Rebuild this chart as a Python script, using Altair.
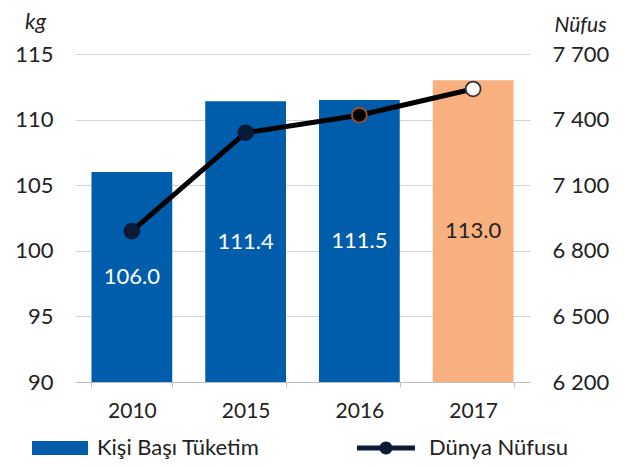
import altair as alt
import pandas as pd

years = ["2010", "2015", "2016", "2017"]
consumption = [106.0, 111.4, 111.5, 113.0]
population = [6890, 7340, 7420, 7540]
bar_series = "Kişi Başı Tüketim"
line_series = "Dünya Nüfusu"

df = pd.DataFrame({
    "year": years,
    "kg": consumption,
    "pop": population,
    "bs": [bar_series] * 4,
    "ls": [line_series] * 4,
})

FONT = "Lato"
BLUE = "#005DAC"
ORANGE = "#F8B07E"
NAVY = "#0B1A36"
TXT = "#222222"

x_enc = alt.X(
    "year:N",
    sort=years,
    scale=alt.Scale(paddingInner=0.29, paddingOuter=0.145),
    axis=alt.Axis(
        title=None, labelAngle=0, labelFontSize=21, labelColor=TXT,
        labelFont=FONT, tickBand="extent", ticks=True, tickSize=5,
        tickColor="#bfbfbf", domainColor="#bfbfbf", labelPadding=13, grid=False,
    ),
)

y_left = alt.Y(
    "kg:Q",
    scale=alt.Scale(domain=[90, 115], nice=False, zero=False),
    axis=alt.Axis(
        title="kg", titleAngle=0, titleFontStyle="italic", titleFontWeight="normal",
        titleFontSize=22, titleFont=FONT, titleColor=TXT,
        titleX=-40, titleY=-21, titleAlign="center",
        values=[90, 95, 100, 105, 110, 115], labelFontSize=22, labelFont=FONT,
        labelColor=TXT, ticks=False, domain=False, labelPadding=22,
        grid=True, gridColor="#d4d4d4",
    ),
)

bars = alt.Chart(df).mark_bar(clip=True).encode(
    x=x_enc,
    y=y_left,
    fill=alt.condition(
        "datum.year == '2017'",
        alt.value(ORANGE),
        alt.Fill(
            "bs:N",
            scale=alt.Scale(domain=[bar_series], range=[BLUE]),
            legend=alt.Legend(
                title=None, orient="none", legendX=-43, legendY=366,
                symbolType="M-1,-0.25H1V0.25H-1Z", symbolSize=3136,
                symbolStrokeWidth=0, labelFontSize=22, labelFont=FONT,
                labelColor=TXT, labelOffset=9, labelLimit=400,
            ),
        ),
    ),
)

labels = alt.Chart(df).transform_calculate(
    mid="(90 + datum.kg) / 2"
).mark_text(fontSize=22, font=FONT).encode(
    x=alt.X("year:N", sort=years),
    y=alt.Y("mid:Q"),
    text=alt.Text("kg:Q", format=".1f"),
    color=alt.condition("datum.year == '2017'", alt.value(TXT), alt.value("white")),
)

left = alt.layer(bars, labels)

y_right = alt.Y(
    "pop:Q",
    scale=alt.Scale(domain=[6200, 7700], nice=False, zero=False),
    axis=alt.Axis(
        orient="right", title="Nüfus", titleAngle=0, titleFontStyle="italic",
        titleFontWeight="normal", titleFontSize=21, titleFont=FONT,
        titleColor=TXT, titleX=50, titleY=-19, titleAlign="center",
        values=[6200, 6500, 6800, 7100, 7400, 7700],
        labelExpr="replace(format(datum.value, ','), ',', ' ')",
        labelFontSize=22, labelFont=FONT, labelColor=TXT,
        ticks=False, domain=False, labelPadding=22, grid=False,
    ),
)

line = alt.Chart(df).mark_line(color="black", strokeWidth=5).encode(
    x=alt.X("year:N", sort=years),
    y=y_right,
    stroke=alt.Stroke(
        "ls:N",
        scale=alt.Scale(domain=[line_series], range=["black"]),
        legend=alt.Legend(
            title=None, orient="none", legendX=282, legendY=365,
            symbolType="M-1,-0.086H1V0.086H-1Z M-0.224,0A0.224,0.224 0 1,1 0.224,0A0.224,0.224 0 1,1 -0.224,0Z",
            symbolSize=3364, symbolFillColor=NAVY, symbolStrokeColor=NAVY,
            symbolStrokeWidth=0, labelFontSize=22, labelFont=FONT,
            labelColor=TXT, labelOffset=14, labelLimit=400,
        ),
    ),
)

points = alt.Chart(df).mark_point(filled=True, size=220, strokeWidth=1.8, opacity=1).encode(
    x=alt.X("year:N", sort=years),
    y=alt.Y("pop:Q"),
    fill=alt.Fill("year:N", scale=alt.Scale(domain=years, range=[NAVY, NAVY, "#000000", "#ffffff"]), legend=None),
    stroke=alt.Stroke("year:N", scale=alt.Scale(domain=years, range=[NAVY, NAVY, "#B2501E", "#333333"]), legend=None),
)

right = alt.layer(line, points).resolve_scale(fill="independent", stroke="independent")

chart = alt.layer(left, right).resolve_scale(
    y="independent", fill="independent", stroke="independent", color="independent"
).properties(
    width=455, height=328,
    autosize=alt.AutoSizeParams(type="none"),
    padding={"left": 67, "top": 46, "right": 87, "bottom": 78},
).configure_view(stroke=None)

chart.save("out.html", embed_options={"renderer": "svg", "actions": False})
